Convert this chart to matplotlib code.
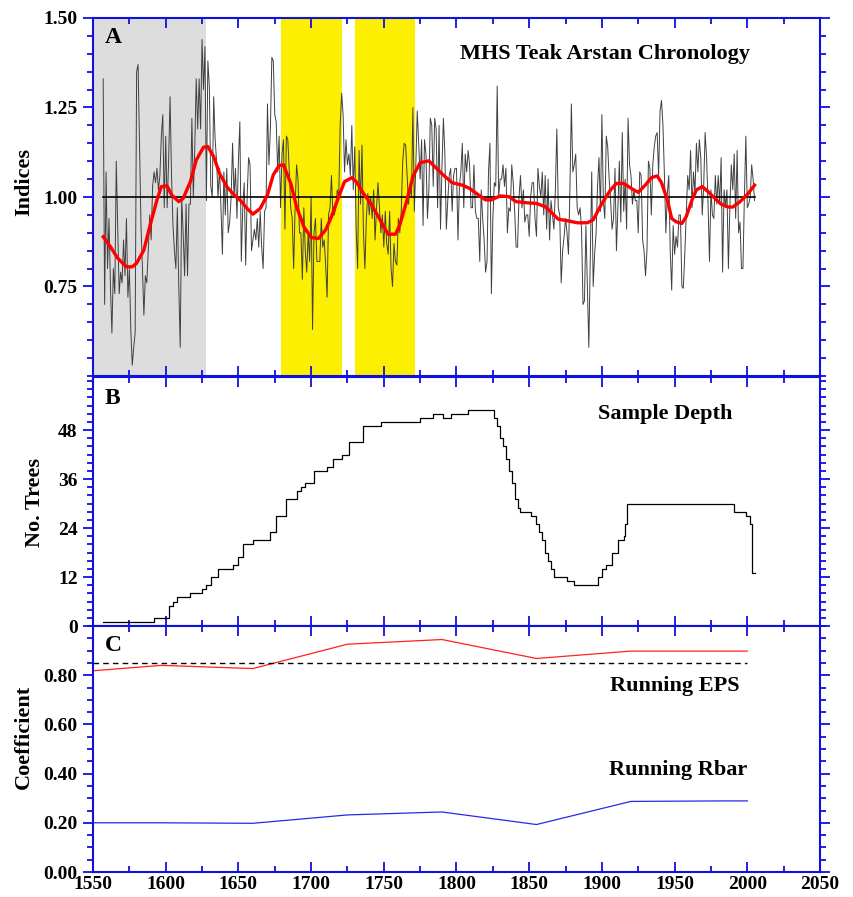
import matplotlib
matplotlib.use('Agg')
import matplotlib.pyplot as plt
from matplotlib.ticker import MultipleLocator, FormatStrFormatter
import numpy as np

plt.rcParams['font.family'] = ['Liberation Serif', 'DejaVu Serif']
plt.rcParams['font.weight'] = 'bold'

# ---- panel A: ring-width index, annual from 1557 ----
first_year = 1557
ring_index = [
    1.33, 0.70, 1.07, 0.80, 0.94, 0.75, 0.62, 0.80, 0.73, 1.10,   # 1557
    0.92, 0.73, 0.79, 0.76, 0.88, 0.78, 0.94, 0.72, 0.80, 0.63,   # 1567
    0.53, 0.58, 0.62, 1.35, 1.37, 1.15, 0.92, 0.80, 0.67, 0.78,   # 1577
    0.76, 0.85, 0.95, 0.88, 1.03, 1.07, 1.04, 1.08, 1.02, 1.06,   # 1587
    1.17, 1.23, 0.97, 1.17, 0.97, 1.10, 1.28, 1.06, 0.92, 0.85,   # 1597
    0.80, 0.97, 0.75, 0.58, 1.00, 0.90, 0.78, 0.98, 0.78, 0.98,   # 1607
    0.98, 1.22, 1.00, 1.14, 1.33, 1.19, 1.33, 1.19, 1.44, 1.30,   # 1617
    1.42, 0.99, 1.38, 1.31, 1.03, 1.00, 1.28, 1.16, 1.10, 1.00,   # 1627
    1.08, 0.97, 0.84, 1.07, 0.95, 1.08, 0.90, 0.93, 1.00, 1.15,   # 1637
    1.00, 1.08, 0.94, 1.10, 1.21, 0.82, 0.97, 1.04, 0.81, 1.00,   # 1647
    1.11, 1.09, 0.85, 0.88, 0.91, 0.88, 0.94, 0.86, 0.96, 0.86,   # 1657
    0.80, 0.96, 0.97, 1.26, 1.09, 1.19, 1.39, 1.38, 1.23, 1.21,   # 1667
    1.07, 1.17, 0.97, 1.12, 1.16, 0.91, 1.17, 1.16, 1.07, 0.97,   # 1677
    0.94, 0.80, 0.97, 1.09, 1.05, 0.90, 0.90, 0.77, 0.97, 0.85,   # 1687
    0.79, 0.90, 0.82, 1.00, 0.63, 0.90, 0.94, 0.82, 0.82, 0.82,   # 1697
    0.94, 0.86, 0.88, 0.81, 0.72, 0.95, 0.97, 1.06, 0.95, 0.95,   # 1707
    0.97, 1.02, 1.00, 1.20, 1.29, 1.23, 1.07, 1.16, 1.09, 1.12,   # 1717
    1.06, 1.20, 1.02, 1.14, 0.91, 0.80, 1.13, 0.98, 1.145, 0.90,  # 1727
    0.80, 0.94, 1.01, 0.95, 1.00, 0.94, 1.02, 0.88, 0.97, 1.04,   # 1737
    0.97, 0.90, 0.95, 0.86, 0.96, 0.87, 0.84, 0.96, 0.80, 0.75,   # 1747
    0.87, 0.82, 0.81, 0.94, 0.90, 0.96, 1.10, 1.15, 1.145, 1.06,  # 1757
    0.98, 1.03, 1.00, 1.25, 0.96, 1.085, 1.24, 1.15, 1.05, 1.16,  # 1767
    0.92, 1.16, 1.12, 0.94, 1.02, 1.22, 1.20, 1.03, 1.22, 1.19,   # 1777
    0.97, 1.20, 0.91, 1.085, 1.22, 1.12, 0.91, 0.99, 1.06, 1.08,  # 1787
    0.96, 1.06, 1.08, 1.08, 0.88, 1.03, 1.07, 1.15, 0.97, 1.12,   # 1797
    1.07, 1.13, 1.09, 0.97, 0.97, 1.09, 0.96, 0.94, 0.94, 0.82,   # 1807
    1.02, 0.94, 0.88, 0.79, 0.82, 1.07, 1.15, 0.73, 0.94, 1.04,   # 1817
    1.03, 1.31, 1.00, 1.05, 1.05, 1.09, 1.03, 1.08, 0.90, 0.97,   # 1827
    0.96, 1.09, 1.04, 0.96, 0.86, 0.86, 1.00, 1.06, 0.97, 1.02,   # 1837
    0.93, 0.95, 0.95, 0.89, 1.00, 1.04, 1.04, 0.94, 0.89, 1.08,   # 1847
    1.03, 1.00, 1.07, 0.95, 1.06, 0.91, 1.05, 0.88, 0.99, 0.95,   # 1857
    0.91, 1.02, 1.19, 0.97, 0.95, 0.76, 0.85, 0.89, 0.94, 0.90,   # 1867
    0.84, 1.02, 1.26, 1.07, 1.09, 1.12, 0.97, 0.95, 0.97, 0.91,   # 1877
    0.70, 0.71, 0.92, 0.75, 0.58, 0.83, 1.07, 0.75, 0.84, 0.90,   # 1887
    1.03, 1.11, 0.96, 1.23, 0.99, 0.94, 1.17, 1.14, 1.05, 0.99,   # 1897
    0.91, 0.94, 1.08, 0.85, 0.97, 1.10, 0.93, 1.18, 0.96, 1.05,   # 1907
    0.91, 1.22, 1.09, 1.06, 0.98, 1.02, 0.99, 0.99, 0.90, 1.07,   # 1917
    1.06, 0.88, 0.85, 0.78, 0.85, 1.10, 1.08, 0.95, 1.09, 1.14,   # 1927
    1.17, 1.18, 1.06, 1.24, 1.27, 1.20, 1.06, 0.90, 1.01, 1.06,   # 1937
    0.85, 0.74, 0.92, 0.84, 0.89, 0.86, 0.95, 0.95, 0.75, 0.745,  # 1947
    0.84, 0.95, 1.06, 1.02, 1.13, 0.97, 1.07, 1.01, 1.15, 1.07,   # 1957
    1.16, 1.11, 0.95, 1.03, 1.18, 1.11, 0.98, 0.82, 1.02, 0.95,   # 1967
    0.94, 1.06, 0.98, 1.06, 0.98, 1.11, 0.79, 1.02, 0.97, 1.02,   # 1977
    0.80, 0.97, 1.09, 1.02, 1.12, 0.94, 1.13, 0.90, 0.93, 0.80,   # 1987
    0.80, 1.00, 1.17, 0.97, 0.98, 1.00, 1.09, 1.05, 0.99,         # 1997
]
years = np.arange(first_year, first_year + len(ring_index))

smooth_years = [1557, 1562, 1567, 1573, 1577, 1580, 1585, 1589, 1594, 1597,
                1601, 1604, 1609, 1612, 1617, 1621, 1626, 1629, 1633, 1637,
                1642, 1647, 1651, 1656, 1660, 1665, 1670, 1674, 1678, 1681,
                1686, 1690, 1695, 1700, 1705, 1710, 1714, 1719, 1723, 1728,
                1731, 1736, 1741, 1745, 1750, 1753, 1758, 1761, 1766, 1770,
                1775, 1781, 1785, 1791, 1797, 1804, 1809, 1815, 1820, 1824,
                1830, 1836, 1841, 1848, 1855, 1861, 1866, 1870, 1876, 1883,
                1890, 1894, 1900, 1906, 1910, 1915, 1921, 1925, 1930, 1934,
                1938, 1941, 1945, 1948, 1951, 1955, 1958, 1962, 1965, 1969,
                1973, 1978, 1982, 1987, 1990, 1995, 2000, 2005]
smooth_vals = [0.889, 0.861, 0.829, 0.805, 0.805, 0.815, 0.852, 0.917, 0.992, 1.029,
               1.031, 1.006, 0.987, 0.996, 1.043, 1.103, 1.139, 1.141, 1.113, 1.066,
               1.029, 1.006, 0.992, 0.968, 0.952, 0.968, 1.006, 1.062, 1.088, 1.090,
               1.038, 0.973, 0.917, 0.887, 0.884, 0.908, 0.945, 1.001, 1.043, 1.054,
               1.043, 1.010, 0.982, 0.954, 0.917, 0.896, 0.896, 0.922, 0.992, 1.057,
               1.096, 1.101, 1.085, 1.061, 1.040, 1.033, 1.024, 1.006, 0.992, 0.992,
               1.003, 1.001, 0.987, 0.984, 0.982, 0.973, 0.954, 0.938, 0.934, 0.928,
               0.928, 0.936, 0.982, 1.020, 1.038, 1.038, 1.022, 1.013, 1.034, 1.054,
               1.059, 1.040, 0.992, 0.940, 0.931, 0.926, 0.945, 0.992, 1.020, 1.029,
               1.015, 0.995, 0.980, 0.972, 0.972, 0.987, 1.007, 1.033]

grey_period = (1550, 1628)
yellow_periods = [(1679, 1721), (1730, 1771.5)]

# ---- panel B: sample depth (year from which the count holds) ----
depth_years = [1557, 1592, 1602, 1605, 1608, 1617, 1625, 1628, 1631, 1636,
               1646, 1650, 1653, 1660, 1672, 1676, 1683, 1690, 1693, 1696,
               1702, 1711, 1715, 1721, 1726, 1736, 1748, 1775, 1784, 1791,
               1796, 1808, 1826, 1828, 1830, 1832, 1834, 1836, 1838, 1840,
               1842, 1844, 1851, 1855, 1857, 1859, 1861, 1863, 1865, 1867,
               1876, 1881, 1897, 1900, 1903, 1907, 1911, 1915, 1916, 1917,
               1991, 1999, 2002, 2003, 2005]
depth_trees = [1, 2, 5, 6, 7, 8, 9, 10, 12, 14,
               15, 17, 20, 21, 23, 27, 31, 33, 34, 35,
               38, 39, 41, 42, 45, 49, 50, 51, 52, 51,
               52, 53, 51, 49, 46, 44, 41, 38, 35, 31,
               29, 28, 27, 25, 23, 21, 18, 16, 14, 12,
               11, 10, 12, 14, 15, 18, 21, 22, 25, 30,
               28, 27, 25, 13, 13]

# ---- panel C: running EPS and Rbar ----
run_years = [1550, 1597, 1660, 1725, 1790, 1855, 1920, 1985, 2000]
run_eps = [0.818, 0.840, 0.827, 0.926, 0.945, 0.868, 0.898, 0.898, 0.898]
run_rbar = [0.200, 0.200, 0.198, 0.232, 0.244, 0.193, 0.287, 0.289, 0.289]
eps_threshold = 0.85

blue = '#1010e0'
W, H = 854, 897
fig = plt.figure(figsize=(W / 100, H / 100), dpi=100)


def box(top, bottom):
    return [93 / W, 1 - bottom / H, 727 / W, (bottom - top) / H]


axA = fig.add_axes(box(18, 376))
axB = fig.add_axes(box(377, 626))
axC = fig.add_axes(box(626, 872))

for ax in (axA, axB, axC):
    ax.set_xlim(1550, 2050)
    for s in ax.spines.values():
        s.set_color(blue)
        s.set_linewidth(1.5)
    ax.xaxis.set_major_locator(MultipleLocator(50))
    ax.xaxis.set_minor_locator(MultipleLocator(25))
    ax.tick_params(axis='x', which='both', direction='in', top=True, bottom=True,
                   color=blue, width=1.3, labelsize=14, pad=3)
    ax.tick_params(axis='x', which='major', length=7)
    ax.tick_params(axis='x', which='minor', length=4)
    ax.tick_params(axis='y', which='both', direction='out', left=True, right=True,
                   color=blue, width=1.3, labelsize=14, pad=4)
    ax.tick_params(axis='y', which='major', length=7)
    ax.tick_params(axis='y', which='minor', length=4)

axA.tick_params(axis='x', labelbottom=False)
axB.tick_params(axis='x', labelbottom=False)

# panel A
axA.axvspan(*grey_period, color='#dcdddc', lw=0, zorder=0)
for a, b in yellow_periods:
    axA.axvspan(a, b, color='#fcf000', lw=0, zorder=0)
axA.plot(years, ring_index, color='#404040', lw=0.7, zorder=2)
axA.plot([years[0], years[-1]], [1.0, 1.0], color='black', lw=1.2, zorder=3)
axA.plot(smooth_years, smooth_vals, color='#ff0000', lw=2.4, zorder=4)
axA.set_ylim(0.5, 1.5)
axA.set_yticks([0.75, 1.0, 1.25, 1.5])
axA.yaxis.set_minor_locator(MultipleLocator(0.05))
axA.yaxis.set_major_formatter(FormatStrFormatter('%.2f'))
axA.text(0.016, 0.945, 'A', transform=axA.transAxes, fontsize=17, ha='left', va='center')
axA.text(0.704, 0.9, 'MHS Teak Arstan Chronology', transform=axA.transAxes,
         fontsize=16, ha='center', va='center')

# panel B
axB.step(depth_years, depth_trees, where='post', color='black', lw=0.9)
axB.set_ylim(0, 61)
axB.set_yticks([0, 12, 24, 36, 48])
axB.yaxis.set_minor_locator(MultipleLocator(2))
axB.text(0.016, 0.915, 'B', transform=axB.transAxes, fontsize=17, ha='left', va='center')
axB.text(0.787, 0.85, 'Sample Depth', transform=axB.transAxes,
         fontsize=16, ha='center', va='center')

# panel C
axC.plot(run_years, run_eps, color='#ff2020', lw=0.9)
axC.plot(run_years, run_rbar, color='#2828e8', lw=0.9)
axC.plot([run_years[0], run_years[-1]], [eps_threshold, eps_threshold],
         color='black', lw=1.0, dashes=(4, 3))
axC.set_ylim(0, 1.0)
axC.set_yticks([0, 0.2, 0.4, 0.6, 0.8])
axC.yaxis.set_minor_locator(MultipleLocator(0.05))
axC.yaxis.set_major_formatter(FormatStrFormatter('%.2f'))
axC.text(0.016, 0.92, 'C', transform=axC.transAxes, fontsize=17, ha='left', va='center')
axC.text(0.89, 0.755, 'Running EPS', transform=axC.transAxes,
         fontsize=16, ha='right', va='center')
axC.text(0.90, 0.415, 'Running Rbar', transform=axC.transAxes,
         fontsize=16, ha='right', va='center')

# y-axis titles
fig.text(24 / W, 1 - 182 / H, 'Indices', rotation=90, fontsize=16, ha='center', va='center')
fig.text(35 / W, 1 - 502 / H, 'No. Trees', rotation=90, fontsize=16, ha='center', va='center')
fig.text(24 / W, 1 - 737 / H, 'Coefficient', rotation=90, fontsize=16, ha='center', va='center')

fig.savefig('out.png', dpi=100)
